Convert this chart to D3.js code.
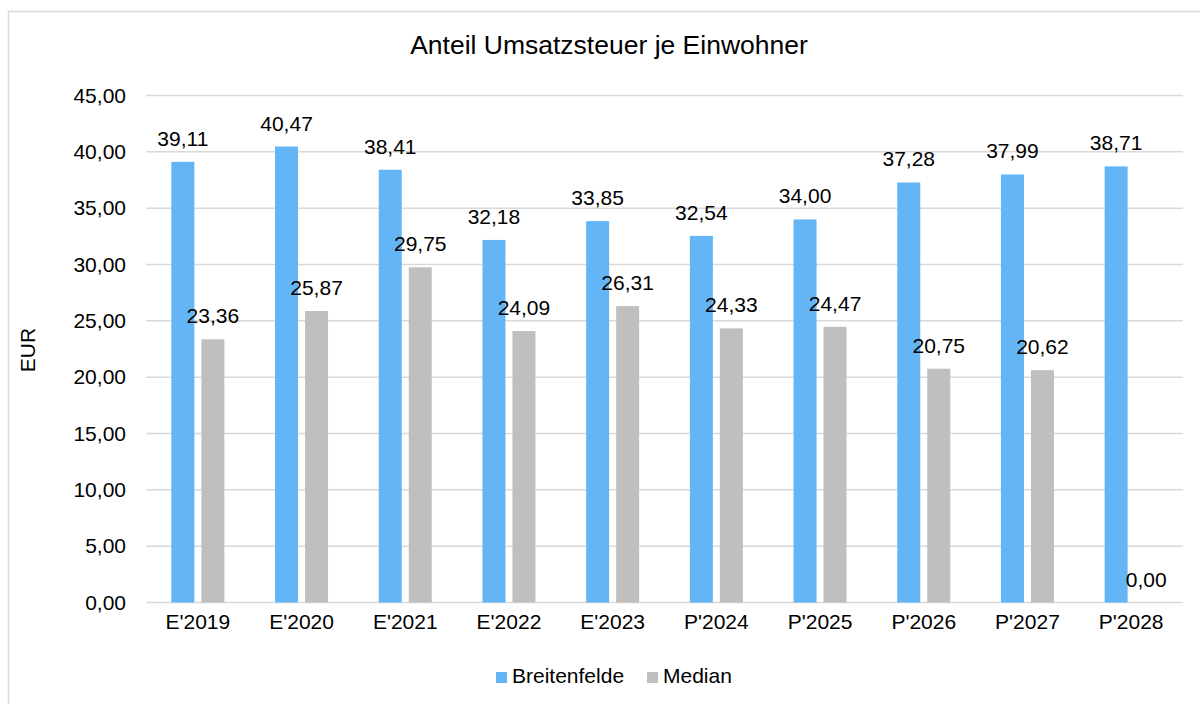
<!DOCTYPE html>
<html><head><meta charset="utf-8">
<script src="https://cdn.jsdelivr.net/npm/d3@7"></script>
<style>html,body{margin:0;padding:0;background:#fff;} svg{display:block;font-family:"Liberation Sans",Arial,sans-serif;}</style>
</head><body>
<svg id="chart" width="1200" height="704"></svg>
<script>
const categories = ["E'2019","E'2020","E'2021","E'2022","E'2023","P'2024","P'2025","P'2026","P'2027","P'2028"];
const seriesNames = ["Breitenfelde","Median"];
const breitenfelde = [39.11,40.47,38.41,32.18,33.85,32.54,34.00,37.28,37.99,38.71];
const median = [23.36,25.87,29.75,24.09,26.31,24.33,24.47,20.75,20.62,0.00];
const yTicks = [0,5,10,15,20,25,30,35,40,45];
const colors = {"Breitenfelde":"#64b5f6","Median":"#bfbfbf"};

const fmt = v => v.toFixed(2).replace(".", ",");
const svg = d3.select("#chart");

// outer border
svg.append("rect").attr("x",8.5).attr("y",11.5).attr("width",1220).attr("height",720)
  .attr("fill","none").attr("stroke","#d9d9d9").attr("stroke-width",1.5);

const x0 = d3.scaleBand().domain(categories).range([146,1183]).padding(0);
const x1 = d3.scaleBand().domain(seriesNames).range([0,x0.bandwidth()]).paddingInner(0.233).paddingOuter(0.845);
const y = d3.scaleLinear().domain([0,45]).range([602.5,95.5]);

// gridlines
svg.append("g").selectAll("line").data(yTicks).join("line")
  .attr("x1",146).attr("x2",1183)
  .attr("y1",d=>y(d)).attr("y2",d=>y(d))
  .attr("stroke","#d9d9d9").attr("stroke-width",1.5);

// y axis labels
const yAxis = d3.axisLeft(y).tickValues(yTicks).tickFormat(fmt).tickSize(0).tickPadding(0);
const gy = svg.append("g").attr("transform","translate(126,0)").call(yAxis);
gy.select(".domain").remove();
gy.selectAll("text").attr("font-size",21).attr("fill","#000").attr("font-family","Liberation Sans, Arial, sans-serif");

// x axis labels
const xAxis = d3.axisBottom(x0).tickSize(0).tickPadding(0);
const gx = svg.append("g").attr("transform","translate(0,614)").call(xAxis);
gx.select(".domain").remove();
gx.selectAll("text").attr("font-size",21).attr("fill","#000").attr("font-family","Liberation Sans, Arial, sans-serif");

const data = categories.map((c,i)=>({cat:c, vals:[{s:"Breitenfelde",v:breitenfelde[i]},{s:"Median",v:median[i]}]}));

const groups = svg.append("g").selectAll("g").data(data).join("g")
  .attr("transform",d=>`translate(${x0(d.cat)},0)`);

groups.selectAll("rect").data(d=>d.vals).join("rect")
  .attr("x",d=>x1(d.s)).attr("width",x1.bandwidth())
  .attr("y",d=>y(d.v)).attr("height",d=>y(0)-y(d.v))
  .attr("fill",d=>colors[d.s]);

groups.selectAll("text").data(d=>d.vals).join("text")
  .attr("x",d=>x1(d.s)+x1.bandwidth()/2)
  .attr("y",d=>y(d.v)-16)
  .attr("text-anchor","middle").attr("font-size",21).attr("fill","#000")
  .text(d=>fmt(d.v));

// title
svg.append("text").attr("x",609).attr("y",54).attr("text-anchor","middle")
  .attr("font-size",26.5).attr("fill","#000").text("Anteil Umsatzsteuer je Einwohner");

// y axis title
svg.append("text").attr("transform","translate(35,350) rotate(-90)").attr("text-anchor","middle")
  .attr("font-size",21).attr("fill","#000").text("EUR");

// legend
const legendX = [496,647];
const lg = svg.append("g").selectAll("g").data(seriesNames).join("g")
  .attr("transform",(d,i)=>`translate(${legendX[i]},672)`);
lg.append("rect").attr("width",11).attr("height",11).attr("fill",d=>colors[d]);
lg.append("text").attr("x",16).attr("y",11).attr("font-size",21).attr("fill","#000").text(d=>d);
</script>
</body></html>
